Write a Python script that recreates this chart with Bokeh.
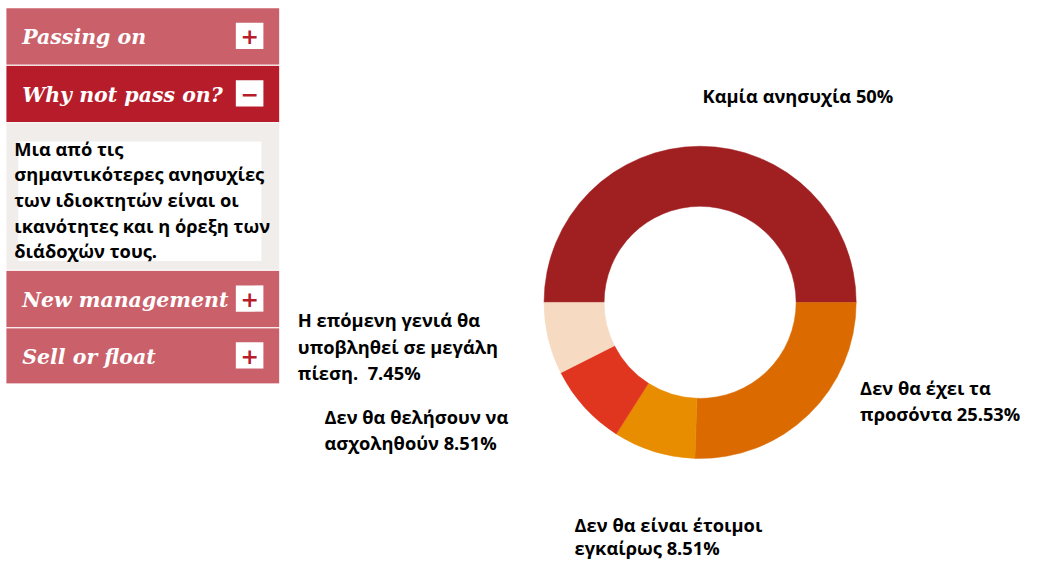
from bokeh.plotting import figure
from bokeh.models import Range1d
from bokeh.core.properties import value
from bokeh.embed import file_html
from bokeh.resources import INLINE
import numpy as np

# ---------------- data ----------------
categories = ["Καμία ανησυχία", "Δεν θα έχει τα προσόντα", "Δεν θα είναι έτοιμοι εγκαίρως",
              "Δεν θα θελήσουν να ασχοληθούν", "Η επόμενη γενιά θα υποβληθεί σε μεγάλη πίεση."]
shares = [50, 25.53, 8.51, 8.51, 7.45]
colors = ["#A01F21", "#DB6A00", "#E98D00", "#E0351F", "#F6DAC1"]
label_lines = [
    ["Καμία ανησυχία"],
    ["Δεν θα έχει τα", "προσόντα"],
    ["Δεν θα είναι έτοιμοι", "εγκαίρως"],
    ["Δεν θα θελήσουν να", "ασχοληθούν"],
    ["Η επόμενη γενιά θα", "υποβληθεί σε μεγάλη", "πίεση.\u00a0"],
]
menu_items = ["Passing on", "Why not pass on?", "New management", "Sell or float"]
menu_signs = ["+", "\u2212", "+", "+"]
body_lines = ["Μια από τις", "σημαντικότερες ανησυχίες", "των ιδιοκτητών είναι οι",
              "ικανότητες και η όρεξη των", "διάδοχών τους."]

# ---------------- layout (pixel coords of the reference picture) ----------------
W, H = 1028, 562
RW, RH = 1044, 578
def Y(py):
    return RH - py

p = figure(width=W, height=H, output_backend="svg", toolbar_location=None,
           x_range=Range1d(0, RW), y_range=Range1d(0, RH), min_border=0)
p.axis.visible = False
p.grid.visible = False
p.outline_line_color = None
p.background_fill_color = "white"
p.border_fill_color = "white"

# left accordion panel
px0, px1 = 6, 283
bars = [(8, 66), (67, 125), (278, 336), (337, 394)]
bar_cols = ["#C9606A", "#B71C2B", "#C9606A", "#C9606A"]
p.quad(left=px0, right=px1, top=Y(125), bottom=Y(277), fill_color="#F0EDEA", line_color=None)
p.quad(left=18, right=265, top=Y(145), bottom=Y(268), fill_color="white", line_color=None)
for (t, b), c in zip(bars, bar_cols):
    p.quad(left=px0, right=px1, top=Y(t), bottom=Y(b), fill_color=c, line_color=None)
for sy in [66.5, 125.5, 277.5, 336.5, 394.5]:
    p.line(x=[px0, px1], y=[Y(sy), Y(sy)], line_color="white", line_width=1.2, line_dash="1 1")

for (t, b), name, sign in zip(bars, menu_items, menu_signs):
    cy = (t + b) / 2
    p.text(x=[22], y=[Y(cy + 1)], text=[name], text_color="white",
           text_font=value("DejaVu Serif"), text_font_style="bold italic",
           text_font_size="20.5px", text_baseline="middle", text_align="left")
    p.quad(left=239, right=267, top=Y(cy - 14), bottom=Y(cy + 13), fill_color="white", line_color=None)
    p.text(x=[253], y=[Y(cy)], text=[sign], text_color="#B71C2B",
           text_font=value("DejaVu Sans"), text_font_style="bold",
           text_font_size="22px", text_baseline="middle", text_align="center")

body_y = [152, 178, 205, 231, 257]
p.text(x=[14] * len(body_lines), y=[Y(v) for v in body_y], text=body_lines,
       text_color="black", text_font=value("Open Sans"), text_font_style="bold",
       text_font_size="18.3px", text_baseline="middle", text_align="left")

# ---------------- donut ----------------
cx, cy, r_out, r_in = 710.5, 310.5, 158.5, 97.5
fr = np.array(shares) / sum(shares)
cum = np.concatenate([[0], np.cumsum(fr)])
starts = np.pi - 2 * np.pi * cum[:-1]
ends = np.pi - 2 * np.pi * cum[1:]
p.annular_wedge(x=cx, y=Y(cy), inner_radius=r_in, outer_radius=r_out,
                start_angle=starts, end_angle=ends, direction="clock",
                fill_color=colors, line_color=colors, line_width=0.5)

# labels
label_pos = [(713, [98]), (873, [398, 425]), (583, [539, 563]), (329, [428, 455]), (302, [328, 356, 383])]
for lines, v, (lx, lys) in zip(label_lines, shares, label_pos):
    txt = list(lines)
    txt[-1] = txt[-1] + " " + f"{v:g}%"
    p.text(x=[lx] * len(txt), y=[Y(q) for q in lys], text=txt, text_color="black",
           text_font=value("Open Sans"), text_font_style="bold", text_font_size="18.3px",
           text_baseline="middle", text_align="left")

open("out.html", "w").write(file_html(p, INLINE))
